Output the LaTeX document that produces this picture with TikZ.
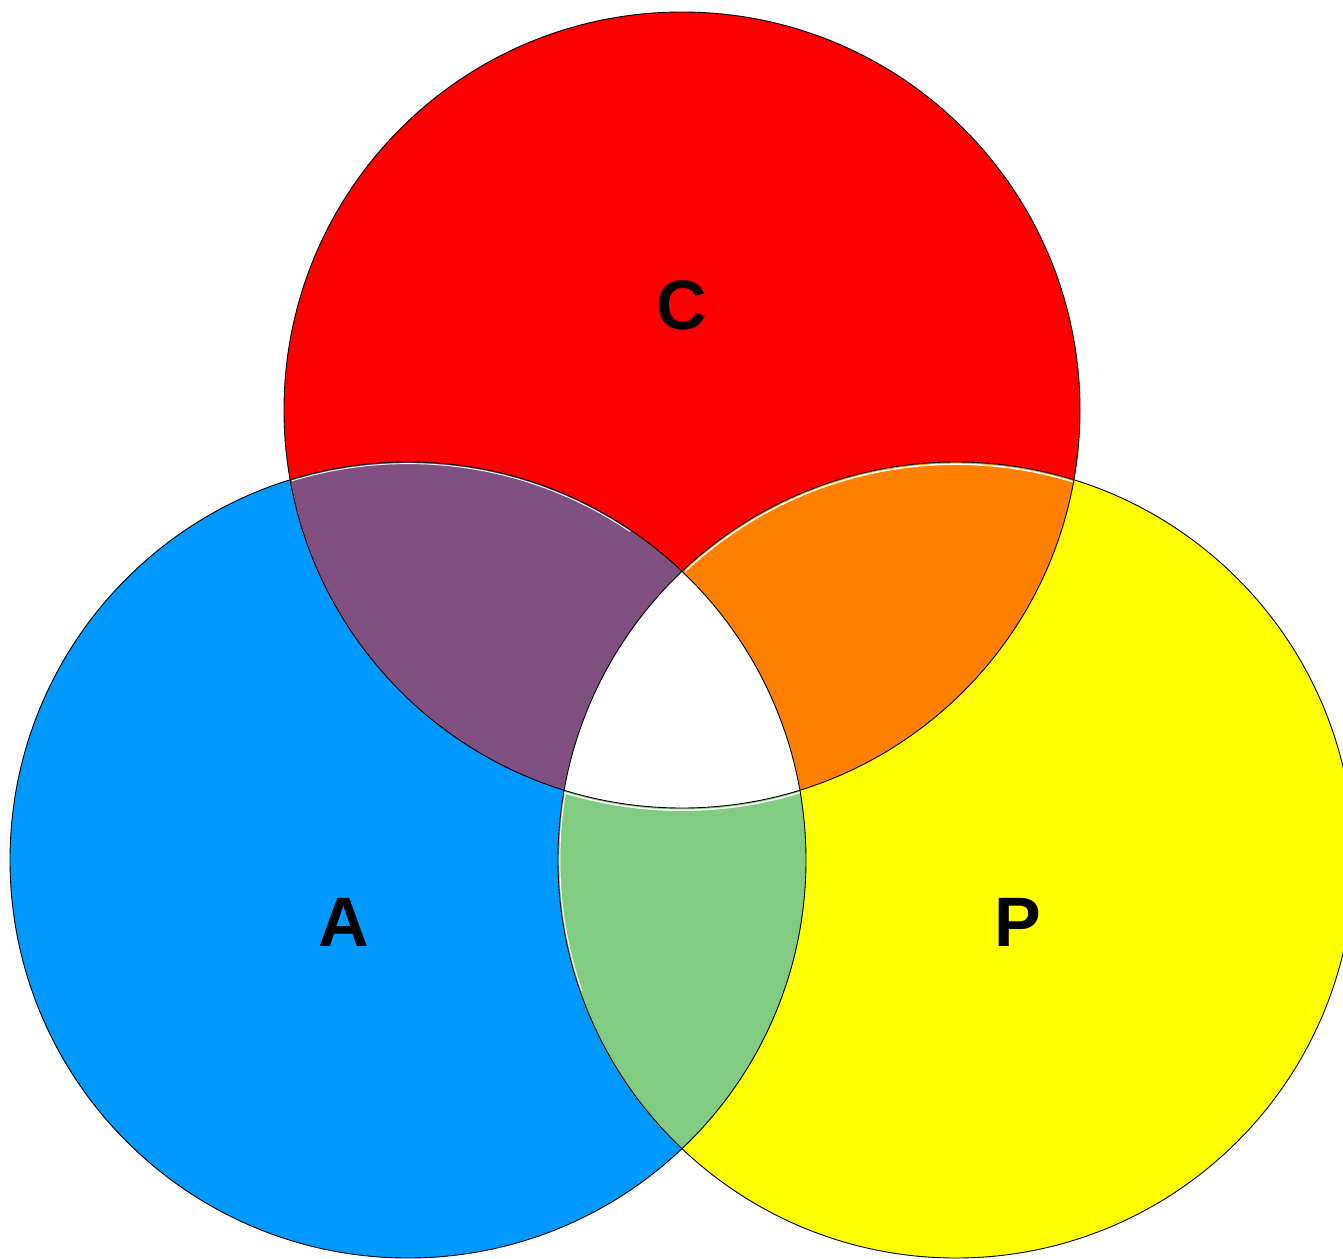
\documentclass[tikz,border=0pt]{standalone}
\usepackage{fontspec}
\setmainfont{Liberation Sans}
\definecolor{cred}{RGB}{255,0,0}
\definecolor{cblue}{RGB}{0,153,255}
\definecolor{cyellow}{RGB}{255,255,0}
\definecolor{cpurple}{RGB}{128,80,128}
\definecolor{corange}{RGB}{255,128,0}
\definecolor{cgreen}{RGB}{130,204,130}
\begin{document}
\begin{tikzpicture}[x=1pt,y=-1pt,
  lbl/.style={font=\fontsize{70}{70}\selectfont\bfseries, text=black, inner sep=0pt},
  ring/.style={draw=black, line width=0.9pt},
  gap/.style={draw=white, line width=1.3pt}]
\useasboundingbox (0,0) rectangle (1343,1258);
\clip (0,0) rectangle (1343,1258);
\def\R{398}
\coordinate (cC) at (682,410);
\coordinate (cA) at (408,860);
\coordinate (cP) at (956,860);
% single fills
\fill[cred] (cC) circle (\R);
\fill[cblue] (cA) circle (\R);
\fill[cyellow] (cP) circle (\R);
% pairwise
\begin{scope}\clip (cA) circle (\R); \fill[cpurple] (cC) circle (\R);\end{scope}
\begin{scope}\clip (cC) circle (\R); \fill[corange] (cP) circle (\R);\end{scope}
\begin{scope}\clip (cA) circle (\R); \fill[cgreen] (cP) circle (\R);\end{scope}
% triple
\begin{scope}\clip (cA) circle (\R); \clip (cC) circle (\R); \fill[white] (cP) circle (\R);\end{scope}
% thin white gaps along some region edges
\begin{scope}\clip (cC) circle (\R); \clip (292,440) rectangle (630,600);
  \draw[gap, line width=0.9pt] (cA) circle (\R-1.6);\end{scope}
\begin{scope}\clip (cC) circle (\R); \clip (685,440) rectangle (1080,600);
  \draw[gap, line width=1.5pt] (cP) circle (\R-2.2);\end{scope}
\begin{scope}\clip (cA) circle (\R); \clip (cP) circle (\R);
  \draw[gap, line width=1.5pt] (cC) circle (\R+2.2);\end{scope}
\begin{scope}\clip (cA) circle (\R); \clip (540,794) rectangle (640,990);
  \draw[gap, line width=1pt] (cP) circle (\R-1.8);\end{scope}
% outlines
\draw[ring] (cC) circle (\R);
\draw[ring] (cA) circle (\R);
\draw[ring] (cP) circle (\R);
% labels
\node[lbl] (lC) at (682,305) {C};
\node[lbl] (lA) at (344,922) {A};
\node[lbl] (lP) at (1018,922) {P};
\end{tikzpicture}
\end{document}
